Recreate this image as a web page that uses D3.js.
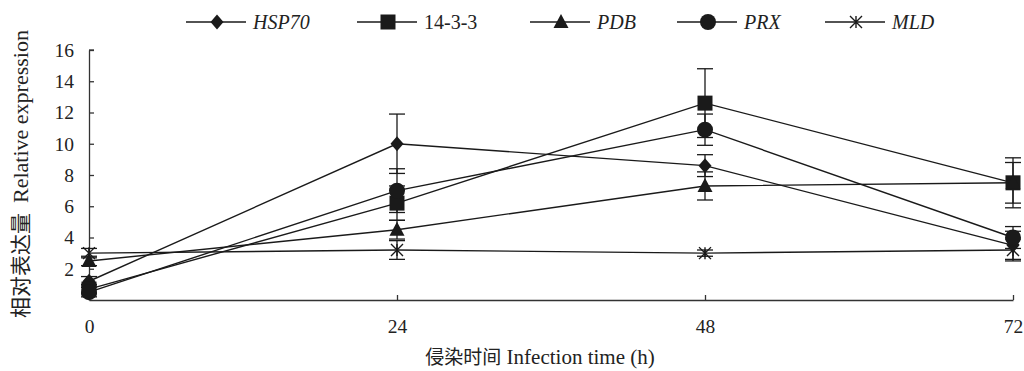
<!DOCTYPE html>
<html><head><meta charset="utf-8">
<script src="https://cdn.jsdelivr.net/npm/d3@7/dist/d3.min.js"></script>
<style>body{margin:0;background:#fff}svg{display:block}</style>
</head><body>
<svg id="c" width="1024" height="371"></svg>
<script>
const times = [0, 24, 48, 72];
const xTicks = [0, 24, 48, 72];
const yTicks = [2, 4, 6, 8, 10, 12, 14, 16];
const seriesNames = ["HSP70", "14-3-3", "PDB", "PRX", "MLD"];
const hsp70 = [1.2, 10.0, 8.6, 3.5];
const hsp70Err = [0.3, 1.9, 0.7, 0.9];
const s1433 = [0.7, 6.2, 12.6, 7.5];
const s1433Err = [0.3, 1.1, 2.2, 1.6];
const pdb = [2.5, 4.5, 7.3, 7.5];
const pdbErr = [0.3, 0.6, 0.9, 1.3];
const prx = [0.5, 7.0, 10.9, 4.0];
const prxErr = [0.3, 1.4, 1.0, 0.7];
const mld = [3.0, 3.2, 3.0, 3.2];
const mldErr = [0.3, 0.6, 0.2, 0.7];

const series = [
  {name: seriesNames[0], vals: hsp70, err: hsp70Err, marker: "diamond", italic: true},
  {name: seriesNames[1], vals: s1433, err: s1433Err, marker: "square", italic: false},
  {name: seriesNames[2], vals: pdb, err: pdbErr, marker: "triangle", italic: true},
  {name: seriesNames[3], vals: prx, err: prxErr, marker: "circle", italic: true},
  {name: seriesNames[4], vals: mld, err: mldErr, marker: "star", italic: true}
];

const svg = d3.select("#c");
const ink = "#1a1a1a";
const x = d3.scaleLinear().domain([0, 72]).range([89, 1013]);
const y = d3.scaleLinear().domain([0, 16]).range([300, 50]);
const font = "'Liberation Serif','Times New Roman',serif";

function drawMarker(g, type, cx, cy) {
  if (type === "diamond") {
    g.append("path").attr("d", `M${cx},${cy-7.5}L${cx+6.5},${cy}L${cx},${cy+7.5}L${cx-6.5},${cy}Z`).attr("fill", ink);
  } else if (type === "square") {
    g.append("rect").attr("x", cx - 7.5).attr("y", cy - 7.5).attr("width", 15).attr("height", 15).attr("fill", ink);
  } else if (type === "triangle") {
    g.append("path").attr("d", `M${cx},${cy-8}L${cx+7.5},${cy+6}L${cx-7.5},${cy+6}Z`).attr("fill", ink);
  } else if (type === "circle") {
    g.append("circle").attr("cx", cx).attr("cy", cy).attr("r", 8).attr("fill", ink);
  } else if (type === "star") {
    const s = 6;
    g.append("path").attr("d", `M${cx-s},${cy-s}L${cx+s},${cy+s}M${cx-s},${cy+s}L${cx+s},${cy-s}M${cx},${cy-s}L${cx},${cy+s}`)
      .attr("stroke", ink).attr("stroke-width", 1.4).attr("fill", "none");
  }
}

// axes
const yAxis = d3.axisLeft(y).tickValues(yTicks).tickSize(-5).tickSizeOuter(0).tickPadding(15);
const gy = svg.append("g").attr("transform", "translate(89,0)").call(yAxis);
const xAxis = d3.axisBottom(x).tickValues(xTicks).tickSize(-5).tickSizeOuter(0).tickPadding(19);
const gx = svg.append("g").attr("transform", "translate(0,300)").call(xAxis);
[gx, gy].forEach(g => {
  g.selectAll("path,line").attr("stroke", "#333").attr("stroke-width", 1.3);
  g.selectAll("text").attr("font-family", font).attr("font-size", 19.5).attr("fill", "#222");
});
svg.append("line").attr("x1", 89).attr("x2", 94).attr("y1", y(16)).attr("y2", y(16)).attr("stroke", "#333").attr("stroke-width", 1.3);

// lines
const plot = svg.append("g");
const line = d3.line().x((d, i) => x(times[i])).y(d => y(d));
series.forEach(s => {
  plot.append("path").attr("d", line(s.vals)).attr("fill", "none").attr("stroke", ink).attr("stroke-width", 1.4);
});
// error bars
series.forEach(s => {
  s.vals.forEach((v, i) => {
    const cx = x(times[i]);
    const t = y(v + s.err[i]), b = y(v - s.err[i]);
    plot.append("line").attr("x1", cx).attr("x2", cx).attr("y1", t).attr("y2", b).attr("stroke", ink).attr("stroke-width", 1.3);
    [t, b].forEach(yy => plot.append("line").attr("x1", cx - 8).attr("x2", cx + 8).attr("y1", yy).attr("y2", yy).attr("stroke", ink).attr("stroke-width", 1.3));
  });
});
// markers
series.forEach(s => {
  s.vals.forEach((v, i) => drawMarker(plot, s.marker, x(times[i]), y(v)));
});

// legend
const legX = [186, 357, 530, 677, 825];
const lg = svg.append("g");
series.forEach((s, i) => {
  const lx = legX[i], ly = 22;
  lg.append("line").attr("x1", lx).attr("x2", lx + 60).attr("y1", ly).attr("y2", ly).attr("stroke", ink).attr("stroke-width", 1.4);
  drawMarker(lg, s.marker, lx + 31, ly);
  lg.append("text").attr("x", lx + 67).attr("y", ly + 7).text(s.name)
    .attr("font-family", font).attr("font-size", 20).attr("font-style", s.italic ? "italic" : "normal").attr("fill", "#222");
});

// titles
svg.append("text").attr("x", 540).attr("y", 364).attr("text-anchor", "middle")
  .attr("font-family", font).attr("font-size", 21).attr("fill", "#222")
  .html("<tspan font-family=\"'Noto Sans CJK SC'\" font-size='19'>侵染时间</tspan> Infection time (h)");
svg.append("text").attr("transform", "translate(28,174) rotate(-90)").attr("text-anchor", "middle")
  .attr("font-family", font).attr("font-size", 22).attr("fill", "#222")
  .html("<tspan font-family=\"'Noto Sans CJK SC'\" font-size='21'>相对表达量</tspan><tspan dx='10'>Relative expression</tspan>");
</script>
</body></html>
